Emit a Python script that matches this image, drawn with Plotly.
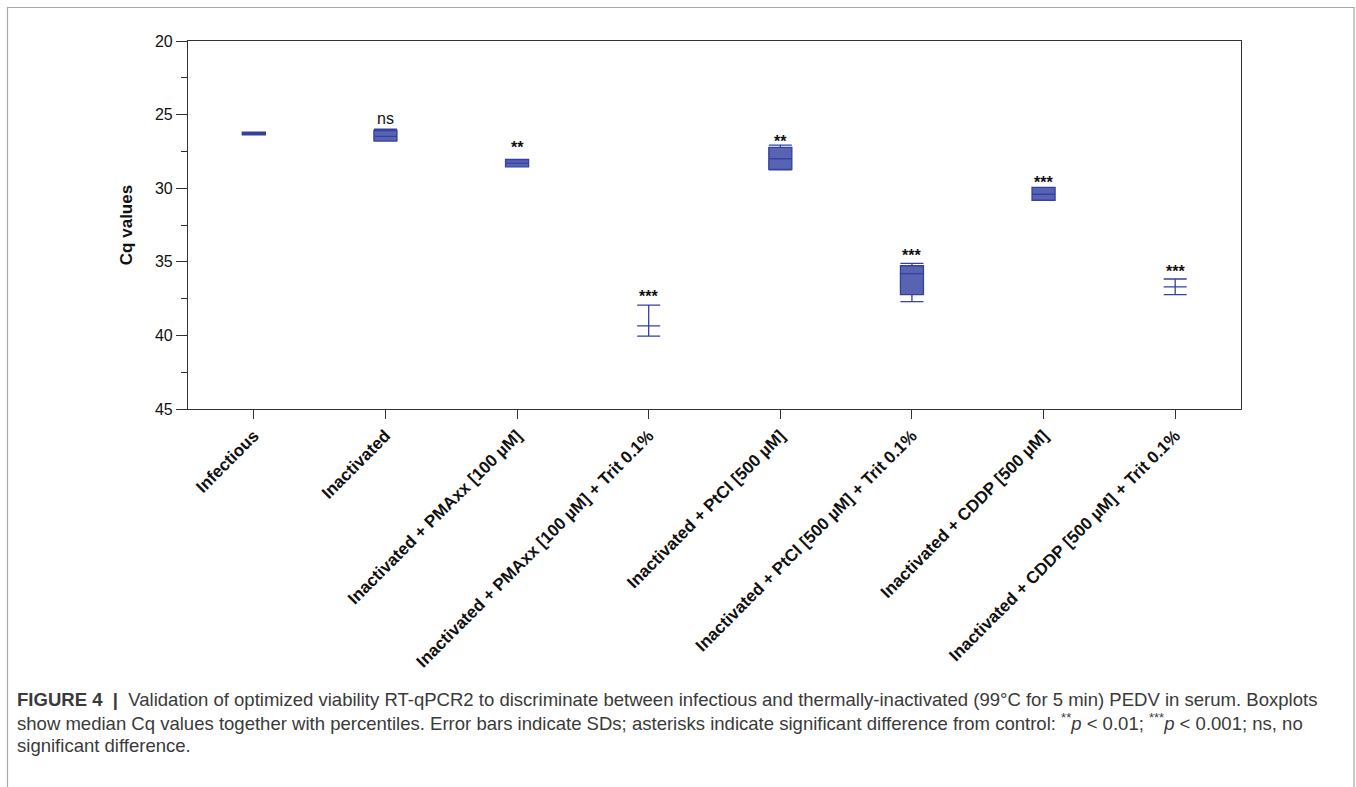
import plotly.graph_objects as go

categories = [
    "Infectious",
    "Inactivated",
    "Inactivated + PMAxx [100 µM]",
    "Inactivated + PMAxx [100 µM] + Trit 0.1%",
    "Inactivated + PtCl [500 µM]",
    "Inactivated + PtCl [500 µM] + Trit 0.1%",
    "Inactivated + CDDP [500 µM]",
    "Inactivated + CDDP [500 µM] + Trit 0.1%",
]
lower_fence = [26.19, 25.98, 28.05, 37.95, 27.07, 35.11, 29.94, 36.17]
q1_vals     = [26.19, 26.08, 28.05, 39.35, 27.23, 35.27, 29.94, 36.71]
median_vals = [26.28, 26.48, 28.30, 39.35, 28.00, 35.81, 30.41, 36.71]
q3_vals     = [26.37, 26.78, 28.55, 39.35, 28.72, 37.23, 30.82, 36.71]
upper_fence = [26.37, 26.80, 28.55, 40.05, 28.76, 37.70, 30.82, 37.23]
significance = ["", "ns", "**", "***", "**", "***", "***", "***"]
label_cq = [None, 25.42, 27.07, 37.21, 26.71, 34.41, 29.49, 35.51]

caption_lines = [
    "<b>FIGURE 4</b>  <b>|</b>  Validation of optimized viability RT-qPCR2 to discriminate between infectious and thermally-inactivated (99°C for 5 min) PEDV in serum. Boxplots",
    "show median Cq values together with percentiles. Error bars indicate SDs; asterisks indicate significant difference from control: <sup>**</sup><i>p</i> < 0.01; <sup>***</sup><i>p</i> < 0.001; ns, no",
    "significant difference.",
]

FONT = "Liberation Sans, Arial, sans-serif"
fig = go.Figure()
fig.add_trace(go.Box(
    x=categories,
    q1=q1_vals, median=median_vals, q3=q3_vals,
    lowerfence=lower_fence, upperfence=upper_fence,
    width=0.175, whiskerwidth=1,
    fillcolor="rgb(88,99,178)",
    line=dict(color="rgb(52,64,162)", width=1.3),
    boxpoints=False, hoverinfo="skip", showlegend=False,
))

annotations = []
for c, ly, s in zip(categories, label_cq, significance):
    if s:
        is_ns = s == "ns"
        annotations.append(dict(
            x=c, y=ly, xref="x", yref="y", text=s, showarrow=False,
            yanchor="middle", yshift=2 if is_ns else -2,
            font=dict(family=FONT, size=16, color="#111",
                      weight="normal" if is_ns else "bold"),
        ))

W, H, L, R, T, B = 1356, 787, 188, 115, 41, 378
pw = W - L - R
ph = H - T - B

def px_x(px):
    return (px - L) / pw

def px_y(py):
    return (H - B - py) / ph

caption_y = [699, 722, 745]
for line, yy in zip(caption_lines, caption_y):
    annotations.append(dict(
        x=px_x(15), y=px_y(yy), xref="paper", yref="paper", text=line,
        showarrow=False, xanchor="left", yanchor="middle", align="left",
        font=dict(family=FONT, size=18.55, color="#3a3a3a"),
    ))

fig.update_layout(
    width=W, height=H,
    margin=dict(l=L, r=R, t=T, b=B),
    paper_bgcolor="white", plot_bgcolor="white",
    annotations=annotations,
    shapes=[dict(type="rect", xref="paper", yref="paper",
                 x0=px_x(7.5), x1=px_x(1354), y0=px_y(800), y1=px_y(7.5),
                 line=dict(color="#a8a8a8", width=1.2), fillcolor="rgba(0,0,0,0)", layer="below")],
    font=dict(family=FONT, color="#111"),
)
fig.update_xaxes(
    type="category", range=[-0.5, 7.5],
    showline=True, mirror=True, linecolor="#333", linewidth=1.2,
    ticks="outside", ticklen=9, tickcolor="#333", tickwidth=1.2,
    tickangle=-45, tickfont=dict(family=FONT, size=17, color="#111", weight="bold"),
    showgrid=False, zeroline=False,
)
fig.update_yaxes(
    range=[45, 20], tickmode="array", tickvals=[20, 25, 30, 35, 40, 45],
    showline=True, mirror=True, linecolor="#333", linewidth=1.2,
    ticks="outside", ticklen=11, tickcolor="#333", tickwidth=1.2,
    minor=dict(ticks="outside", ticklen=6, tickvals=[22.5, 27.5, 32.5, 37.5, 42.5], tickcolor="#333", tickwidth=1.2),
    tickfont=dict(family=FONT, size=16, color="#111"),
    title=dict(text="<b>Cq values</b>", font=dict(family=FONT, size=17, color="#111"), standoff=17),
    showgrid=False, zeroline=False,
)
fig.write_html("out.html", config={"displayModeBar": False},
               post_script="document.body.style.margin='0';document.body.style.padding='0';")
